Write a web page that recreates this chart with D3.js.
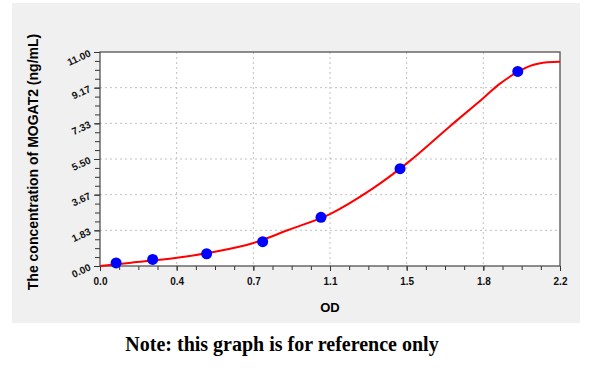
<!DOCTYPE html>
<html><head><meta charset="utf-8">
<script src="https://cdn.jsdelivr.net/npm/d3@7"></script>
<style>body{margin:0;background:#fff;}svg{display:block;}</style>
</head><body>
<script>
const pointOD   = [0.077, 0.252, 0.51, 0.778, 1.057, 1.435, 1.998];
const pointConc = [0.16, 0.34, 0.63, 1.25, 2.5, 5.0, 10.0];
const curveOD   = [0, 0.15, 0.36, 0.55, 0.73, 0.9, 1.1, 1.3, 1.47, 1.67, 1.83, 1.91, 2.0, 2.07, 2.14, 2.2];
const curveConc = [0, 0.17, 0.41, 0.73, 1.17, 1.85, 2.67, 3.95, 5.3, 7.15, 8.6, 9.35, 9.99, 10.33, 10.47, 10.5];
const xTicks = [0, 2.2/6, 2*2.2/6, 3*2.2/6, 4*2.2/6, 5*2.2/6, 2.2];
const xTickLabels = ["0.0","0.4","0.7","1.1","1.5","1.8","2.2"];
const yTicks = [0, 11/6, 2*11/6, 3*11/6, 4*11/6, 5*11/6, 11];
const yTickLabels = ["0.00","1.83","3.67","5.50","7.33","9.17","11.00"];

const W=600,H=381;
const svg=d3.select("body").append("svg").attr("width",W).attr("height",H);
svg.append("rect").attr("x",12).attr("y",3).attr("width",568).attr("height",320).attr("fill","#f0f0f0");
const L=100,R=560,T=52,B=266;
const x=d3.scaleLinear().domain([0,2.2]).range([L,R]);
const y=d3.scaleLinear().domain([0,11]).range([B,T]);
svg.append("rect").attr("x",L).attr("y",T).attr("width",R-L).attr("height",B-T).attr("fill","#fff");

// grid
const g=svg.append("g");
xTicks.slice(1,-1).forEach(v=>g.append("line").attr("x1",x(v)).attr("x2",x(v)).attr("y1",T).attr("y2",B)
  .attr("stroke","#c0c0c0").attr("stroke-dasharray","2,3"));
yTicks.slice(1,-1).forEach(v=>g.append("line").attr("y1",y(v)).attr("y2",y(v)).attr("x1",L).attr("x2",R)
  .attr("stroke","#c0c0c0").attr("stroke-dasharray","2,3"));

// minor ticks
const xMinor=d3.range(0,25).map(i=>i*2.2/24);
const yMinor=d3.range(0,25).map(i=>i*11/24);
const xa=svg.append("g").attr("transform",`translate(0,${B})`)
  .call(d3.axisBottom(x).tickValues(xMinor).tickSize(4).tickFormat(""));
xa.select(".domain").remove();
xa.selectAll("line").attr("stroke","#333");
const ya=svg.append("g").attr("transform",`translate(${L},0)`)
  .call(d3.axisLeft(y).tickValues(yMinor).tickSize(5).tickFormat(""));
ya.select(".domain").remove();
ya.selectAll("line").attr("stroke","#333");

// major ticks and labels
const xl=svg.append("g").attr("transform",`translate(0,${B})`)
  .call(d3.axisBottom(x).tickValues(xTicks).tickSize(5).tickFormat((d,i)=>xTickLabels[i]));
xl.select(".domain").remove();
xl.selectAll("line").attr("stroke","#333");
xl.selectAll("text").attr("font-family","Liberation Sans, Arial, sans-serif").attr("font-weight","bold")
  .attr("font-size","10px").attr("fill","#111").attr("dy","1.1em");
const yl=svg.append("g").attr("transform",`translate(${L},0)`)
  .call(d3.axisLeft(y).tickValues(yTicks).tickSize(6).tickFormat((d,i)=>yTickLabels[i]));
yl.select(".domain").remove();
yl.selectAll("line").attr("stroke","#333");
yl.selectAll("text").attr("font-family","Liberation Sans, Arial, sans-serif").attr("font-weight","bold")
  .attr("font-size","10px").attr("fill","#111")
  .attr("x",-10).attr("dy","0.35em").attr("y",0)
  .attr("transform","rotate(-25,-10,0)");

// frame
svg.append("rect").attr("x",L).attr("y",T).attr("width",R-L).attr("height",B-T)
  .attr("fill","none").attr("stroke","#444").attr("stroke-width",1.2);

// curve
const line=d3.line().x((d,i)=>x(curveOD[i])).y((d,i)=>y(curveConc[i])).curve(d3.curveCatmullRom.alpha(0.5));
svg.append("path").datum(curveOD).attr("d",line).attr("fill","none").attr("stroke","#ff0000").attr("stroke-width",2);

// points
svg.selectAll("circle.pt").data(pointOD).enter().append("circle")
  .attr("cx",d=>x(d)).attr("cy",(d,i)=>y(pointConc[i])).attr("r",5.5).attr("fill","#0000ff");

// axis titles
svg.append("text").attr("x",330).attr("y",312).attr("text-anchor","middle")
  .attr("font-family","Liberation Sans, Arial, sans-serif").attr("font-weight","bold").attr("font-size","13px").text("OD");
svg.append("text").attr("transform","translate(38,162) rotate(-90)").attr("text-anchor","middle")
  .attr("font-family","Liberation Sans, Arial, sans-serif").attr("font-weight","bold").attr("font-size","14px")
  .text("The concentration of MOGAT2 (ng/mL)");
svg.append("text").attr("x",282).attr("y",351).attr("text-anchor","middle")
  .attr("font-family","Liberation Serif, serif").attr("font-weight","bold").attr("font-size","20px")
  .text("Note: this graph is for reference only");
</script>
</body></html>
